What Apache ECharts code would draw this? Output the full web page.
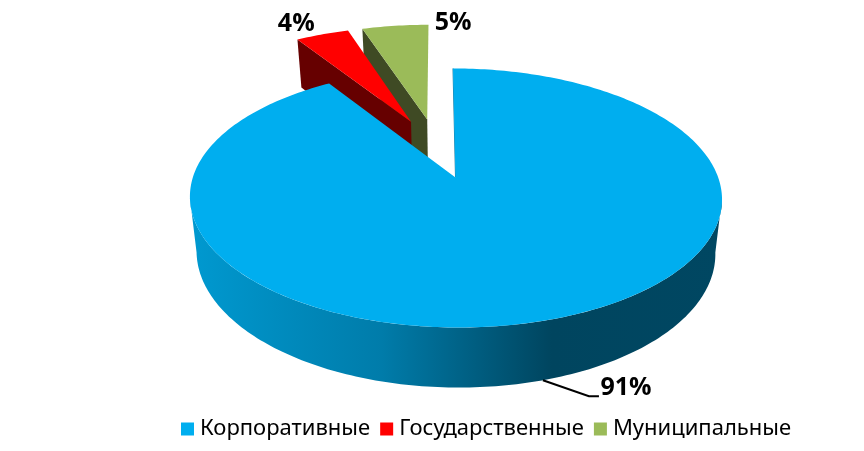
<!DOCTYPE html>
<html><head><meta charset="utf-8">
<style>html,body{margin:0;padding:0;background:#fff}#c{width:864px;height:451px}</style>
<script src="https://cdn.jsdelivr.net/npm/echarts@6/dist/echarts.min.js"></script>
</head><body><div id="c"></div>
<script>
const categories = ['Корпоративные', 'Государственные', 'Муниципальные'];
const shares = [91, 4, 5];
const topColors = ['#00AEEF', '#FF0000', '#9BBB59'];
const wallColors = [null, '#660000', '#3F4A24'];
const explode = [0, 0.507, 0.507];
const explodeSkew = [0, 4.8, -3.6];
const seriesZ = [3, 2, 1];

// Projection of the tilted pie: a unit-circle plane seen in perspective
const P = {cx: 455.5, cy: 177.5, a: 126.3, b: 262.7, t: 2.9, k: 0.158, s: 0.975, h: 53.7};
const rad = d => d * Math.PI / 180;
const topPt = (X, Y) => { const d = 1 - P.k * Y; return [P.cx + (P.b * X + P.t * Y) / d, P.cy + P.a * Y / d]; };
const botPt = (X, Y) => { const d = 1 - P.k * Y; return [P.cx + P.s * (P.b * X + P.t * Y) / d, P.cy + (P.s * P.a * Y + P.h) / d]; };
const total = shares.reduce((x, y) => x + y, 0);

function sliceInfo(i) {
  let start = 0;
  for (let j = 0; j < i; j++) start += shares[j] / total * 360;
  const end = start + shares[i] / total * 360;
  const dir = rad((start + end) / 2 + explodeSkew[i]);
  return {start, end, ox: explode[i] * Math.sin(dir), oy: -explode[i] * Math.cos(dir)};
}
function arc(project, s, from, to) {
  const pts = [], n = Math.max(2, Math.ceil(Math.abs(to - from)));
  for (let t = 0; t <= n; t++) {
    const th = rad(from + (to - from) * t / n);
    pts.push(project(s.ox + Math.sin(th), s.oy - Math.cos(th)));
  }
  return pts;
}
const labelFont = 'bold 25px "Open Sans"';
const labelOffsets = [[0, 0], [-26, -11], [58, -3]];

function renderSlice(i) {
  return function () {
    const s = sliceInfo(i), kids = [];
    const apexT = topPt(s.ox, s.oy), apexB = botPt(s.ox, s.oy);
    const mid = rad((s.start + s.end) / 2);
    let anchor;
    if (i === 0) {
      // outer wall, front half between the two silhouette angles
      const silR = Math.acos(-P.k) * 180 / Math.PI, silL = 360 - silR;
      const wall = arc(botPt, s, silR, silL).concat(arc(topPt, s, silL, silR));
      kids.push({type: 'polygon', shape: {points: wall}, style: {
        fill: new echarts.graphic.LinearGradient(0, 0, 1, 0, [
          {offset: 0, color: '#0099D0'}, {offset: 0.36, color: '#007CAA'},
          {offset: 0.68, color: '#00455F'}, {offset: 1, color: '#004762'}])}});
      const a0 = arc(topPt, s, 0, 0.001)[0];
      kids.push({type: 'line', shape: {x1: a0[0], y1: a0[1], x2: apexT[0], y2: apexT[1]},
        style: {stroke: '#1F7FA6', lineWidth: 1}});
      const poly = [apexT].concat(arc(topPt, s, s.start, s.end));
      kids.push({type: 'polygon', shape: {points: poly}, style: {fill: topColors[i]}});
      anchor = botPt(Math.sin(mid), -Math.cos(mid));
      const knee = [anchor[0] + 46, anchor[1] + 16], foot = [knee[0] + 10, knee[1]];
      kids.push({type: 'polyline', shape: {points: [anchor, knee, foot]},
        style: {stroke: '#000', lineWidth: 2, fill: null}});
      anchor = [foot[0] + 27, foot[1] - 8];
    } else {
      const oT = arc(topPt, s, s.start, s.start)[0], oB = arc(botPt, s, s.start, s.start)[0];
      kids.push({type: 'polygon', shape: {points: [apexT, oT, oB, apexB]}, style: {fill: wallColors[i]}});
      kids.push({type: 'polygon', shape: {points: [apexT].concat(arc(topPt, s, s.start, s.end))}, style: {fill: topColors[i]}});
      anchor = topPt(s.ox + Math.sin(mid), s.oy - Math.cos(mid));
    }
    kids.push({type: 'text', x: anchor[0] + labelOffsets[i][0], y: anchor[1] + labelOffsets[i][1], style: {
      text: shares[i] + '%', font: labelFont, fill: '#000', align: 'center', verticalAlign: 'middle'}});
    return {type: 'group', children: kids};
  };
}

const chart = echarts.init(document.getElementById('c'), null, {renderer: 'canvas'});
chart.setOption({
  animation: false,
  backgroundColor: '#fff',
  tooltip: {show: false},
  legend: {
    left: 176, top: 413, itemGap: 10, itemWidth: 13, itemHeight: 13, icon: 'rect',
    selectedMode: false, data: categories,
    textStyle: {fontFamily: '"Noto Sans"', fontSize: 22, color: '#000', padding: [0, 0, 0, 1]}
  },
  series: categories.map((name, i) => ({
    type: 'custom', name, coordinateSystem: 'none', z: seriesZ[i],
    itemStyle: {color: topColors[i]}, silent: true,
    data: [shares[i]], renderItem: renderSlice(i)
  }))
});
</script></body></html>
